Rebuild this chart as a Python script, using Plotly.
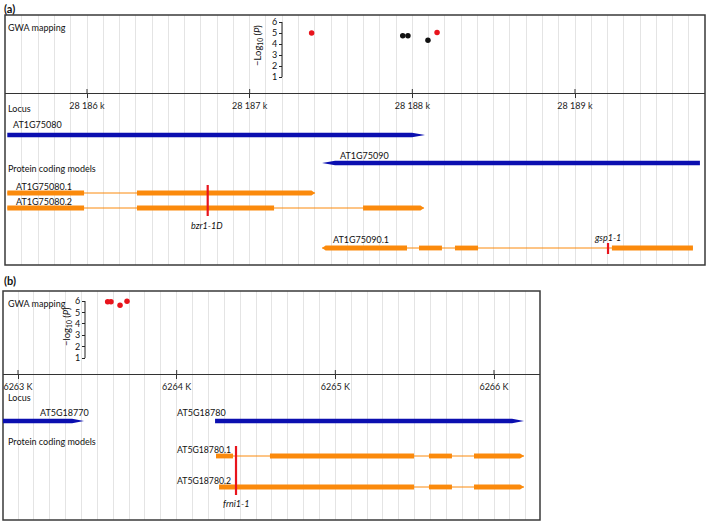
import plotly.graph_objects as go

W, H = 709, 524

# ---------------- Panel (a) data ----------------
a_tick_vals = [28186000, 28187000, 28188000, 28189000]
a_tick_text = ["28 186 k", "28 187 k", "28 188 k", "28 189 k"]
a_snp_pos = [28187381, 28187941, 28187973, 28188096, 28188152]
a_snp_logp = [5.0, 4.75, 4.75, 4.35, 5.05]
a_snp_color = ["#e8141c", "#111111", "#111111", "#111111", "#e8141c"]
a_gwa_ticks = [1, 2, 3, 4, 5, 6]

a_locus_names = ["AT1G75080", "AT1G75090"]
a_locus_start = [28185510, 28187445]
a_locus_end = [28188078, 28189768]
a_locus_strand = ["+", "-"]

a_tx_names = ["AT1G75080.1", "AT1G75080.2", "AT1G75090.1"]
a_tx1_exons = [(28185510, 28185982), (28186307, 28187402)]
a_tx2_exons = [(28185510, 28185982), (28186307, 28187150), (28187697, 28188072)]
a_tx3_exons = [(28187445, 28187967), (28188041, 28188182), (28188262, 28188404), (28189227, 28189725)]
a_tx_strand = ["+", "+", "-"]

a_mut_names = ["bzr1-1D", "gsp1-1"]
a_mut_pos = [28186742, 28189203]

# ---------------- Panel (b) data ----------------
b_tick_vals = [6263000, 6264000, 6265000, 6266000]
b_tick_text = ["6263 K", "6264 K", "6265 K", "6266 K"]
b_snp_pos = [6263565, 6263586, 6263643, 6263687]
b_snp_logp = [5.94, 5.93, 5.62, 5.97]
b_gwa_ticks = [1, 2, 3, 4, 5, 6]

b_locus_names = ["AT5G18770", "AT5G18780"]
b_locus_start = [6262900, 6264242]
b_locus_end = [6263416, 6266189]
b_locus_strand = ["+", "+"]

b_tx_names = ["AT5G18780.1", "AT5G18780.2"]
b_tx1_exons = [(6264248, 6264355), (6264588, 6265496), (6265590, 6265735), (6265874, 6266189)]
b_tx2_exons = [(6264267, 6265496), (6265590, 6265735), (6265874, 6266189)]
b_tx_strand = ["+", "+"]

b_mut_names = ["frni1-1"]
b_mut_pos = [6264374]

# ---------------- styling / layout helpers ----------------
BLUE = "#0b0fb0"
ORANGE = "#fb8a0c"
RED = "#e8141c"
GRID = "#e4e4e4"
FRAME = "#3a3a3a"
FONT = "Lato"
TXT = "#111111"


def px(x):
    return x / W


def py(y):
    return 1 - y / H


fig = go.Figure()

# calibrated ranges (pixel -> genomic)
a_scale = (575 - 87) / 3000.0
a_range = [28186000 - (87 - 5) / a_scale, 28189000 + (705 - 575) / a_scale]
b_scale = (494 - 18) / 3000.0
b_range = [6263000 - (18 - 3) / b_scale, 6266000 + (540 - 494) / b_scale]

# GWA value scales: (pixel of 6, pixel per unit)
a_p6, a_unit = 22.0, 11.0
b_p6, b_unit = 301.0, 11.4


def vrange(ptop, pbot, p6, unit):
    return [6 - (pbot - p6) / unit, 6 - (ptop - p6) / unit]


xcommon = dict(showline=True, linecolor="#333333", linewidth=1.2, ticks="outside",
               ticklen=4, tickcolor="#333333", tickwidth=1,
               tickfont=dict(family=FONT, size=9, color="#222222"),
               showgrid=True, gridcolor=GRID, gridwidth=1, zeroline=False,
               tickmode="array", fixedrange=True)

fig.update_layout(
    width=W, height=H, margin=dict(l=0, r=0, t=0, b=0),
    paper_bgcolor="white", plot_bgcolor="rgba(0,0,0,0)", showlegend=False,
    xaxis=dict(domain=[px(5), px(705)], range=a_range, anchor="free", position=py(93),
               tickvals=a_tick_vals, ticktext=a_tick_text,
               minor=dict(tickmode="linear", tick0=28186000, dtick=100, showgrid=True,
                          gridcolor=GRID, gridwidth=1, ticks=""), **xcommon),
    yaxis=dict(domain=[py(265), py(15)], range=[265, 15], visible=False, anchor="x", fixedrange=True),
    yaxis3=dict(domain=[py(93), py(15)], range=vrange(15, 93, a_p6, a_unit), anchor="free",
                position=px(282), tickmode="array", tickvals=a_gwa_ticks, ticks="outside",
                ticklen=3, tickcolor="#222", showgrid=False, zeroline=False, showline=False,
                tickfont=dict(family=FONT, size=9, color=TXT), fixedrange=True),
    xaxis2=dict(domain=[px(3), px(540)], range=b_range, anchor="free", position=py(374),
                tickvals=b_tick_vals, ticktext=b_tick_text,
                minor=dict(tickmode="linear", tick0=6263000, dtick=100, showgrid=True,
                           gridcolor=GRID, gridwidth=1, ticks=""), **xcommon),
    yaxis2=dict(domain=[py(520), py(291)], range=[520, 291], visible=False, anchor="x2", fixedrange=True),
    yaxis4=dict(domain=[py(374), py(291)], range=vrange(291, 374, b_p6, b_unit), anchor="free",
                position=px(85), tickmode="array", tickvals=b_gwa_ticks, ticks="outside",
                ticklen=3, tickcolor="#222", showgrid=False, zeroline=False, showline=False,
                tickfont=dict(family=FONT, size=9, color=TXT), fixedrange=True),
)

# dummy traces so track subplots exist
fig.add_trace(go.Scatter(x=[a_range[0]], y=[20], xaxis="x", yaxis="y", mode="markers",
                         marker=dict(size=1, color="rgba(0,0,0,0)"), hoverinfo="skip"))
fig.add_trace(go.Scatter(x=[b_range[0]], y=[300], xaxis="x2", yaxis="y2", mode="markers",
                         marker=dict(size=1, color="rgba(0,0,0,0)"), hoverinfo="skip"))

# GWA points
fig.add_trace(go.Scatter(x=a_snp_pos, y=a_snp_logp, xaxis="x", yaxis="y3", mode="markers",
                         marker=dict(size=5.5, color=a_snp_color), hoverinfo="x+y"))
fig.add_trace(go.Scatter(x=b_snp_pos, y=b_snp_logp, xaxis="x2", yaxis="y4", mode="markers",
                         marker=dict(size=5.5, color=RED), hoverinfo="x+y"))

shapes = []

# frames
for xr, yr in (("x", "y"), ("x2", "y2")):
    shapes.append(dict(type="rect", xref=f"{xr} domain", yref=f"{yr} domain", x0=0, x1=1, y0=0, y1=1,
                       line=dict(color=FRAME, width=1.5), layer="above"))

# GWA axis lines
shapes.append(dict(type="line", xref="paper", yref="y3", x0=px(282), x1=px(282), y0=1, y1=6,
                   line=dict(color="#222", width=1)))
shapes.append(dict(type="line", xref="paper", yref="y4", x0=px(85), x1=px(85), y0=1, y1=6,
                   line=dict(color="#222", width=1)))

# upper halves of genomic ticks
for v in a_tick_vals:
    shapes.append(dict(type="line", xref="x", yref="y", x0=v, x1=v, y0=89, y1=93,
                       line=dict(color="#333", width=1)))
for v in b_tick_vals:
    shapes.append(dict(type="line", xref="x2", yref="y2", x0=v, x1=v, y0=370, y1=374,
                       line=dict(color="#333", width=1)))


def exon_shape(xr, yr, s, e, y, h, color, arrow, taper):
    if arrow == "+":
        path = (f"M{s},{y - h} L{e - taper},{y - h} L{e},{y} L{e - taper},{y + h} L{s},{y + h} Z")
    elif arrow == "-":
        path = (f"M{e},{y - h} L{s + taper},{y - h} L{s},{y} L{s + taper},{y + h} L{e},{y + h} Z")
    else:
        path = f"M{s},{y - h} L{e},{y - h} L{e},{y + h} L{s},{y + h} Z"
    return dict(type="path", xref=xr, yref=yr, path=path, fillcolor=color,
                line=dict(width=0), layer="above")


def add_model(xr, yr, exons, y, h, color, strand, taper):
    if len(exons) > 1:
        shapes.append(dict(type="line", xref=xr, yref=yr, x0=exons[0][0], x1=exons[-1][1], y0=y, y1=y,
                           line=dict(color=color, width=1), layer="above"))
    for i, (s, e) in enumerate(exons):
        arrow = None
        if strand == "+" and i == len(exons) - 1:
            arrow = "+"
        if strand == "-" and i == 0:
            arrow = "-"
        shapes.append(exon_shape(xr, yr, s, e, y, h, color, arrow, taper))


# panel a tracks (rows in pixel units of track axis)
a_locus_rows = [135, 163]
for s, e, st, row in zip(a_locus_start, a_locus_end, a_locus_strand, a_locus_rows):
    add_model("x", "y", [(s, e)], row, 2.2, BLUE, st, 80)
a_tx_rows = [193, 208, 248]
for ex, st, row in zip([a_tx1_exons, a_tx2_exons, a_tx3_exons], a_tx_strand, a_tx_rows):
    add_model("x", "y", ex, row, 2.4, ORANGE, st, 22)
a_mut_spans = [(185, 216), (243, 254)]
for pos, (y0, y1) in zip(a_mut_pos, a_mut_spans):
    shapes.append(dict(type="line", xref="x", yref="y", x0=pos, x1=pos, y0=y0, y1=y1,
                       line=dict(color=RED, width=2.2), layer="above"))

# panel b tracks
b_locus_rows = [421, 421]
for s, e, st, row in zip(b_locus_start, b_locus_end, b_locus_strand, b_locus_rows):
    add_model("x2", "y2", [(s, e)], row, 2.3, BLUE, st, 75)
b_tx_rows = [456, 487]
for ex, st, row in zip([b_tx1_exons, b_tx2_exons], b_tx_strand, b_tx_rows):
    add_model("x2", "y2", ex, row, 2.4, ORANGE, st, 25)
b_mut_spans = [(446, 495)]
for pos, (y0, y1) in zip(b_mut_pos, b_mut_spans):
    shapes.append(dict(type="line", xref="x2", yref="y2", x0=pos, x1=pos, y0=y0, y1=y1,
                       line=dict(color=RED, width=2.2), layer="above"))

fig.update_layout(shapes=shapes)

# ---------------- text ----------------
ann = []


def label(text, x, y, size=9, xanchor="left", italic=False, bold=False, angle=0, color=TXT):
    t = text
    if italic:
        t = f"<i>{t}</i>"
    if bold:
        t = f"<b>{t}</b>"
    ann.append(dict(text=t, x=px(x), y=py(y), xref="paper", yref="paper", showarrow=False,
                    xanchor=xanchor, yanchor="middle", textangle=angle,
                    font=dict(family=FONT, size=size, color=color)))


label("(a)", 2, 8, size=11, bold=True)
label("GWA mapping", 6, 27)
label("−Log<sub>10</sub> (<i>P</i>)", 258, 46, size=9.5, angle=-90, xanchor="center")
label("Locus", 6, 108)
label(a_locus_names[0], 11, 124)
label(a_locus_names[1], 338, 155)
label("Protein coding models", 6, 169)
label(a_tx_names[0], 14, 187)
label(a_tx_names[1], 14, 201)
label(a_tx_names[2], 331, 239)
label(a_mut_names[0], 207, 225, italic=True, xanchor="center")
label(a_mut_names[1], 607, 237, italic=True, xanchor="center")

label("(b)", 2, 280, size=11, bold=True)
label("GWA mapping", 6, 303)
label("−log<sub>10</sub> (<i>P</i>)", 67, 327, size=9.5, angle=-90, xanchor="center")
label("Locus", 6, 397)
label(b_locus_names[0], 38, 412)
label(b_locus_names[1], 175, 412)
label("Protein coding models", 6, 441)
label(b_tx_names[0], 175, 449, size=8.7)
label(b_tx_names[1], 175, 480, size=8.7)
label(b_mut_names[0], 236, 503, italic=True, xanchor="center")

fig.update_layout(annotations=ann)

fig.write_html("out.html", config={"displayModeBar": False},
               post_script="document.body.style.margin='0px';document.body.style.overflow='hidden';")
